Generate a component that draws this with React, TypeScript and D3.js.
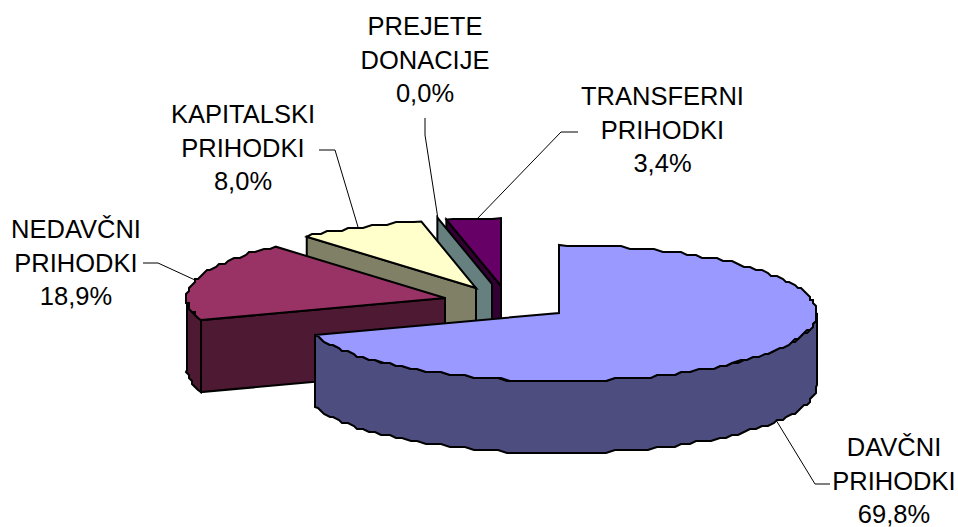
import React from "react";
import * as d3 from "d3";

const categories = ["DAVČNI PRIHODKI", "NEDAVČNI PRIHODKI", "KAPITALSKI PRIHODKI", "PREJETE DONACIJE", "TRANSFERNI PRIHODKI"];
const values = [69.8, 18.9, 8.0, 0.0, 3.4];
const valueLabels = ["69,8%", "18,9%", "8,0%", "0,0%", "3,4%"];
const topColors = ["#9999FF", "#993366", "#FFFFCC", "#669999", "#660066"];
const sideColors = ["#4D4D80", "#4D1933", "#808066", "#668080", "#330033"];
const sliceCentres: [number, number][] = [[559, 313], [445, 298], [476, 288], [492, 284], [501, 286]];
const labelLines = [["DAVČNI", "PRIHODKI"], ["NEDAVČNI", "PRIHODKI"], ["KAPITALSKI", "PRIHODKI"], ["PREJETE", "DONACIJE"], ["TRANSFERNI", "PRIHODKI"]];
const labelAnchors: [number, number][] = [[894, 456], [76, 238], [243, 123], [425, 35], [662.5, 105]];
const leaders: [number, number][][] = [
  [[776, 420], [815, 484], [830, 484]],
  [[195, 280], [158, 263], [143, 263]],
  [[358, 227], [335, 150], [319, 150]],
  [[438, 219], [425, 135], [425, 118]],
  [[476, 220], [561, 132], [578, 132]],
];

const RX = 258, RY = 68, DEPTH = 72, GRID = 3, LINE = 33.7;
const deg90 = Math.PI / 2;
const snap = (v: number) => Math.round(v / GRID) * GRID;

export default function App() {
  const slices = d3.pie<number>().sort(null).value((d) => d).startAngle(0).endAngle(2 * Math.PI)(values);
  const rx = d3.scaleLinear().domain([0, 1]).range([0, RX]);
  const ry = d3.scaleLinear().domain([0, 1]).range([0, RY]);
  const path = d3.line();

  const rim = (i: number, a0: number, a1: number, dy = 0): [number, number][] => {
    const [cx, cy] = sliceCentres[i];
    const n = Math.max(1, Math.ceil(Math.abs(a1 - a0) / 0.035));
    return d3.range(n + 1).map((k) => {
      const a = a0 + ((a1 - a0) * k) / n;
      const x = cx + rx(Math.sin(a));
      const y = cy - ry(Math.cos(a)) + dy;
      const end = k === 0 || k === n;
      return [end ? x : snap(x), end ? y : snap(y)] as [number, number];
    });
  };

  return (
    <svg width={958} height={527} style={{ position: "absolute", left: 0, top: 0, background: "#fff" }}>
      {leaders.map((l, i) => (
        <path key={i} d={path(l) ?? ""} fill="none" stroke="#000" strokeWidth={1} />
      ))}
      {[4, 3, 2, 1, 0].map((i) => {
        const s = slices[i];
        const [cx, cy] = sliceCentres[i];
        const a0 = s.startAngle, a1 = s.endAngle;
        const start = rim(i, a0, a0)[0];
        const face: [number, number][] = [[cx, cy], start, [start[0], start[1] + DEPTH], [cx, cy + DEPTH]];
        const lo = Math.max(a0, deg90), hi = Math.min(a1, 3 * deg90);
        const side = hi > lo ? [...rim(i, lo, hi), ...rim(i, hi, lo, DEPTH)] : null;
        const top: [number, number][] = [[cx, cy], ...rim(i, a0, a1)];
        return (
          <g key={categories[i]} stroke="#000" strokeWidth={2} strokeLinejoin="miter">
            <path d={(path(face) ?? "") + "Z"} fill={sideColors[i]} />
            {side && <path d={(path(side) ?? "") + "Z"} fill={sideColors[i]} />}
            {a1 > a0 && <path d={(path(top) ?? "") + "Z"} fill={topColors[i]} />}
          </g>
        );
      })}
      <g fontFamily="'Liberation Sans', Arial, sans-serif" fontSize={25.5} textAnchor="middle" fill="#000">
        {labelLines.map((lines, i) => (
          <text key={i} x={labelAnchors[i][0]} y={labelAnchors[i][1]}>
            {[...lines, valueLabels[i]].map((t, k) => (
              <tspan key={k} x={labelAnchors[i][0]} y={labelAnchors[i][1] + k * LINE}>{t}</tspan>
            ))}
          </text>
        ))}
      </g>
    </svg>
  );
}
